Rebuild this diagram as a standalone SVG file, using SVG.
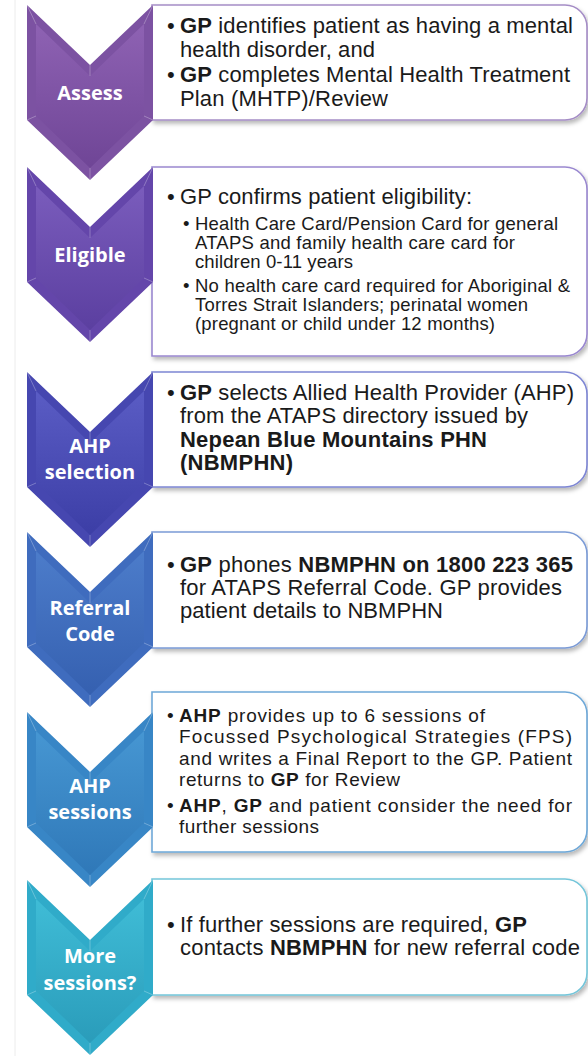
<svg xmlns="http://www.w3.org/2000/svg" xmlns:xlink="http://www.w3.org/1999/xlink" width="588" height="1056" viewBox="0 0 588 1056">
<style>
.t{font-family:"Liberation Sans",Arial,sans-serif;font-size:22px;fill:#1a1a1a}
.s{font-size:18.5px}
.m{font-size:19px}
.b{font-weight:bold}
.lbl{font-family:"Open Sans","DejaVu Sans",sans-serif;font-size:20px;font-weight:bold;fill:#ffffff;text-anchor:middle}
.box{fill:#ffffff;stroke-width:1.6;filter:url(#sh)}
.bev{fill:none;stroke:#ffffff;stroke-opacity:0.28;stroke-width:1}
</style>
<defs>
<filter id="sh" x="-5%" y="-10%" width="115%" height="130%">
<feDropShadow dx="2" dy="3" stdDeviation="2" flood-color="#000000" flood-opacity="0.28"/>
</filter>
<path id="chev" d="M27,0 L90,60 L153,0 L153,115 L90,175 L27,115 Z"/>
<path id="chevIn" d="M36,19 L90,71 L144,19 L144,111 L90,163 L36,111 Z"/>
<path id="bevL" d="M27,0 L36,19 M90,60 L90,71 M153,0 L144,19 M153,115 L144,111 M90,175 L90,163 M27,115 L36,111"/>
<linearGradient id="g1" x1="0" y1="0" x2="0" y2="1"><stop offset="0" stop-color="#8e62b3"/><stop offset="1" stop-color="#6f4596"/></linearGradient>
<linearGradient id="g2" x1="0" y1="0" x2="0" y2="1"><stop offset="0" stop-color="#7a5cbc"/><stop offset="1" stop-color="#5b3fa0"/></linearGradient>
<linearGradient id="g3" x1="0" y1="0" x2="0" y2="1"><stop offset="0" stop-color="#5a5cc4"/><stop offset="1" stop-color="#3c3ea6"/></linearGradient>
<linearGradient id="g4" x1="0" y1="0" x2="0" y2="1"><stop offset="0" stop-color="#4c7cca"/><stop offset="1" stop-color="#3560b0"/></linearGradient>
<linearGradient id="g5" x1="0" y1="0" x2="0" y2="1"><stop offset="0" stop-color="#4696d2"/><stop offset="1" stop-color="#2f78b8"/></linearGradient>
<linearGradient id="g6" x1="0" y1="0" x2="0" y2="1"><stop offset="0" stop-color="#3fbcd6"/><stop offset="1" stop-color="#2a9cba"/></linearGradient>
</defs>
<rect x="0" y="0" width="588" height="1056" fill="#ffffff"/>
<line x1="15" y1="0" x2="15" y2="1056" stroke="#ececec" stroke-width="1"/>
<g id="connectors"></g>

<g id="assess">
<path class="box" stroke="#a58dc6" d="M152,5 H565 A22,22 0 0 1 587,27 V98 A22,22 0 0 1 565,120 H152 Z"/>
<g transform="translate(0,5)">
<use xlink:href="#chev" fill="#7c52a2"/>
<use xlink:href="#chevIn" fill="url(#g1)"/>
<use xlink:href="#bevL" class="bev"/>
</g>
<text class="lbl" x="90" y="100">Assess</text>
<text class="t" x="167" y="33">•</text>
<text class="t" x="180" y="33" textLength="393" lengthAdjust="spacing"><tspan class="b">GP</tspan> identifies patient as having a mental</text>
<text class="t" x="180" y="57" textLength="195" lengthAdjust="spacing">health disorder, and</text>
<text class="t" x="167" y="82">•</text>
<text class="t" x="180" y="82" textLength="390" lengthAdjust="spacing"><tspan class="b">GP</tspan> completes Mental Health Treatment</text>
<text class="t" x="180" y="106" textLength="208" lengthAdjust="spacing">Plan (MHTP)/Review</text>
</g>

<g id="eligible">
<path class="box" stroke="#9a88d0" d="M152,167 H565 A22,22 0 0 1 587,189 V334 A22,22 0 0 1 565,356 H152 Z"/>
<g transform="translate(0,167)">
<use xlink:href="#chev" fill="#6446aa"/>
<use xlink:href="#chevIn" fill="url(#g2)"/>
<use xlink:href="#bevL" class="bev"/>
</g>
<text class="lbl" x="90" y="262">Eligible</text>
<text class="t" x="167" y="204">•</text>
<text class="t" x="180" y="204" textLength="292" lengthAdjust="spacing">GP confirms patient eligibility:</text>
<text class="t s" x="183" y="230">•</text>
<text class="t s" x="195" y="230" textLength="363" lengthAdjust="spacing">Health Care Card/Pension Card for general</text>
<text class="t s" x="195" y="249" textLength="320" lengthAdjust="spacing">ATAPS and family health care card for</text>
<text class="t s" x="195" y="268" textLength="158" lengthAdjust="spacing">children 0-11 years</text>
<text class="t s" x="183" y="292">•</text>
<text class="t s" x="195" y="292" textLength="375" lengthAdjust="spacing">No health care card required for Aboriginal &amp;</text>
<text class="t s" x="195" y="311" textLength="333" lengthAdjust="spacing">Torres Strait Islanders;  perinatal women</text>
<text class="t s" x="195" y="330" textLength="300" lengthAdjust="spacing">(pregnant  or child under 12 months)</text>
</g>

<g id="ahp-selection">
<path class="box" stroke="#7e86d4" d="M152,372 H565 A22,22 0 0 1 587,394 V465 A22,22 0 0 1 565,487 H152 Z"/>
<g transform="translate(0,372)">
<use xlink:href="#chev" fill="#4647b0"/>
<use xlink:href="#chevIn" fill="url(#g3)"/>
<use xlink:href="#bevL" class="bev"/>
</g>
<text class="lbl" x="90" y="453">AHP</text>
<text class="lbl" x="90" y="479">selection</text>
<text class="t" x="167" y="400">•</text>
<text class="t" x="180" y="400" textLength="394" lengthAdjust="spacing"><tspan class="b">GP</tspan> selects Allied Health Provider (AHP)</text>
<text class="t" x="180" y="423" textLength="348" lengthAdjust="spacing">from the ATAPS directory issued by</text>
<text class="t b" x="180" y="447" textLength="307" lengthAdjust="spacing">Nepean Blue Mountains PHN</text>
<text class="t b" x="180" y="470" textLength="113" lengthAdjust="spacing">(NBMPHN)</text>
</g>

<g id="referral-code">
<path class="box" stroke="#7b9bd6" d="M152,532 H565 A22,22 0 0 1 587,554 V626 A22,22 0 0 1 565,648 H152 Z"/>
<g transform="translate(0,532)">
<use xlink:href="#chev" fill="#3f6cbe"/>
<use xlink:href="#chevIn" fill="url(#g4)"/>
<use xlink:href="#bevL" class="bev"/>
</g>
<text class="lbl" x="90" y="615">Referral</text>
<text class="lbl" x="90" y="641">Code</text>
<text class="t" x="167" y="572">•</text>
<text class="t" x="180" y="572" textLength="393" lengthAdjust="spacing"><tspan class="b">GP</tspan> phones <tspan class="b">NBMPHN on 1800 223 365</tspan></text>
<text class="t" x="180" y="595" textLength="382" lengthAdjust="spacing">for ATAPS Referral Code. GP provides</text>
<text class="t" x="180" y="618" textLength="263" lengthAdjust="spacing">patient details to NBMPHN</text>
</g>

<g id="ahp-sessions">
<path class="box" stroke="#6ea8d8" d="M152,692 H565 A22,22 0 0 1 587,714 V830 A22,22 0 0 1 565,852 H152 Z"/>
<g transform="translate(0,712)">
<use xlink:href="#chev" fill="#3886c6"/>
<use xlink:href="#chevIn" fill="url(#g5)"/>
<use xlink:href="#bevL" class="bev"/>
</g>
<text class="lbl" x="90" y="793">AHP</text>
<text class="lbl" x="90" y="819">sessions</text>
<text class="t m" x="167" y="722">•</text>
<text class="t m" x="179" y="722" textLength="306" lengthAdjust="spacing"><tspan class="b">AHP</tspan> provides up to 6 sessions of</text>
<text class="t m" x="179" y="743" textLength="393" lengthAdjust="spacing">Focussed Psychological Strategies (FPS)</text>
<text class="t m" x="179" y="765" textLength="393" lengthAdjust="spacing">and writes a Final Report to the GP. Patient</text>
<text class="t m" x="179" y="786" textLength="221" lengthAdjust="spacing">returns to <tspan class="b">GP</tspan> for Review</text>
<text class="t m" x="167" y="812">•</text>
<text class="t m" x="179" y="812" textLength="393" lengthAdjust="spacing"><tspan class="b">AHP</tspan>, <tspan class="b">GP</tspan> and patient consider the need for</text>
<text class="t m" x="179" y="833" textLength="140" lengthAdjust="spacing">further sessions</text>
</g>

<g id="more-sessions">
<path class="box" stroke="#74c6da" d="M152,879 H565 A22,22 0 0 1 587,901 V973 A22,22 0 0 1 565,995 H152 Z"/>
<g transform="translate(0,880)">
<use xlink:href="#chev" fill="#30abc9"/>
<use xlink:href="#chevIn" fill="url(#g6)"/>
<use xlink:href="#bevL" class="bev"/>
</g>
<text class="lbl" x="90" y="963">More</text>
<text class="lbl" x="90" y="990">sessions?</text>
<text class="t" x="167" y="932">•</text>
<text class="t" x="180" y="932" textLength="347" lengthAdjust="spacing">If further sessions are required, <tspan class="b">GP</tspan></text>
<text class="t" x="180" y="955" textLength="400" lengthAdjust="spacing">contacts <tspan class="b">NBMPHN</tspan> for new referral code</text>
</g>
</svg>
